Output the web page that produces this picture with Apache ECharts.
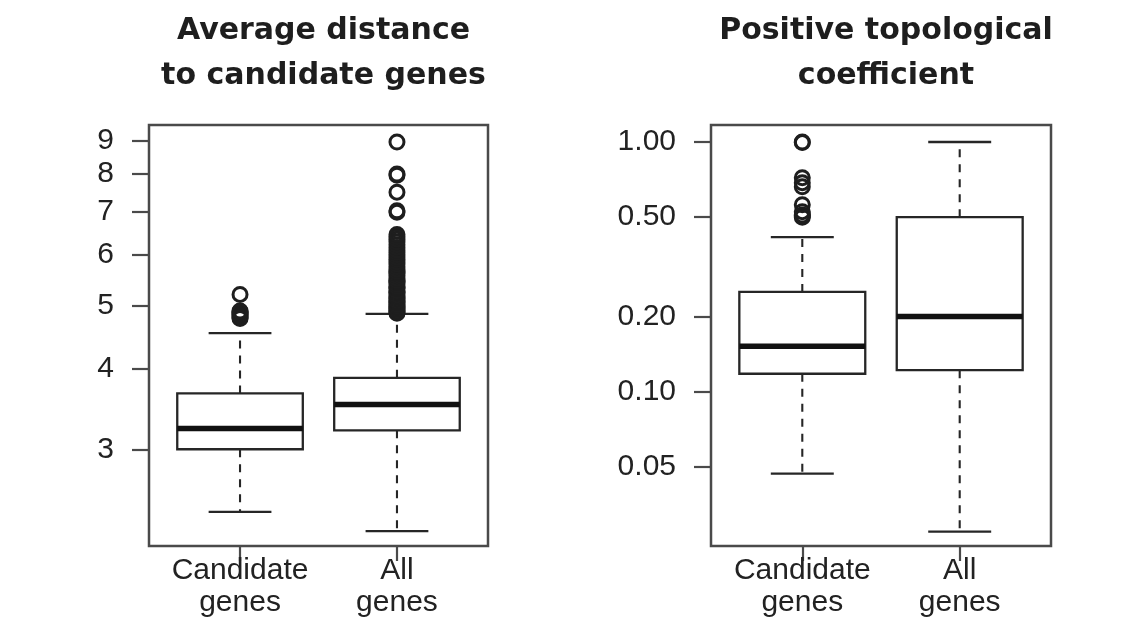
<!DOCTYPE html>
<html>
<head>
<meta charset="utf-8">
<script src="https://cdn.jsdelivr.net/npm/echarts@6/dist/echarts.min.js"></script>
<style>
html,body{margin:0;padding:0;background:#fff;}
#chart{width:1140px;height:626px;}
</style>
</head>
<body>
<div id="chart"></div>
<script>
// ---------- data ----------
const categories = ['Candidate\ngenes', 'All\ngenes'];
const titles = ['Average distance\nto candidate genes', 'Positive topological\ncoefficient'];
const distTicks = [3, 4, 5, 6, 7, 8, 9];
const coefTicks = [0.05, 0.10, 0.20, 0.50, 1.00];

// [lower whisker, Q1, median, Q3, upper whisker]
const distCandidateBox = [2.40, 3.00, 3.23, 3.66, 4.54];
const distAllBox = [2.24, 3.21, 3.52, 3.87, 4.86];
const distCandidateOutliers = [4.78, 4.80, 4.82, 4.84, 4.86, 4.88, 4.90, 4.91, 5.21];
const distAllOutliers = [4.87, 4.89, 4.91, 4.93, 4.96, 4.98, 5.00, 5.03, 5.06, 5.08, 5.10, 5.13,
  5.15, 5.17, 5.20, 5.24, 5.26, 5.28, 5.32, 5.34, 5.36, 5.40, 5.44, 5.46, 5.48, 5.52, 5.57,
  5.61, 5.64, 5.66, 5.70, 5.75, 5.80, 5.85, 5.90, 5.95, 6.00, 6.05, 6.10, 6.16, 6.22, 6.28,
  6.34, 6.40, 6.45, 6.98, 7.02, 7.50, 7.97, 8.00, 8.97];

const coefCandidateBox = [0.047, 0.118, 0.152, 0.251, 0.416];
const coefAllBox = [0.0275, 0.122, 0.200, 0.500, 1.000];
const coefCandidateOutliers = [0.500, 0.505, 0.510, 0.526, 0.561, 0.662, 0.687, 0.720, 0.995, 1.000];
const coefAllOutliers = [];

// ---------- build ----------
const ink = '#262626';
const frame = '#4a4a4a';
const fontAxis = '"Liberation Sans", Arial, sans-serif';

function boxItems(boxes) {
  return boxes.map((b, i) => [i + 1].concat(b));
}
function outlierItems(lists) {
  const out = [];
  lists.forEach((l, i) => l.forEach(v => out.push([i + 1, v])));
  return out;
}

function renderBox(params, api) {
  const x = api.value(0);
  const lo = api.value(1), q1 = api.value(2), med = api.value(3), q3 = api.value(4), hi = api.value(5);
  const pLo = api.coord([x, lo]), pQ1 = api.coord([x, q1]), pMed = api.coord([x, med]);
  const pQ3 = api.coord([x, q3]), pHi = api.coord([x, hi]);
  const left = api.coord([x - 0.4, med])[0], right = api.coord([x + 0.4, med])[0];
  const capL = api.coord([x - 0.2, med])[0], capR = api.coord([x + 0.2, med])[0];
  const cx = pMed[0];
  const solid = {stroke: ink, lineWidth: 2.3, fill: null};
  const dashed = {stroke: ink, lineWidth: 2.1, lineDash: [8, 7], fill: null};
  return {
    type: 'group',
    children: [
      {type: 'line', shape: {x1: cx, y1: pQ3[1], x2: cx, y2: pHi[1]}, style: dashed},
      {type: 'line', shape: {x1: cx, y1: pQ1[1], x2: cx, y2: pLo[1]}, style: dashed},
      {type: 'line', shape: {x1: capL, y1: pHi[1], x2: capR, y2: pHi[1]}, style: solid},
      {type: 'line', shape: {x1: capL, y1: pLo[1], x2: capR, y2: pLo[1]}, style: solid},
      {type: 'rect', shape: {x: left, y: pQ3[1], width: right - left, height: pQ1[1] - pQ3[1]},
        style: {stroke: ink, lineWidth: 2.3, fill: '#fff'}},
      {type: 'line', shape: {x1: left, y1: pMed[1], x2: right, y2: pMed[1]},
        style: {stroke: '#111', lineWidth: 5.5}}
    ]
  };
}

const grids = [
  {left: 149, top: 125, width: 339, height: 421},
  {left: 711, top: 125, width: 340, height: 421}
];
const yRanges = [[2.125, 9.53], [0.0241, 1.17]];
const yTicks = [distTicks, coefTicks];
const yFormat = [v => String(Math.round(v)), v => Number(v).toFixed(2)];

const outlierStyle = {color: 'rgba(255,255,255,0)', borderColor: '#1e1e1e', borderWidth: 3, opacity: 1};

const option = {
  animation: false,
  backgroundColor: '#fff',
  title: titles.map((t, i) => ({
    text: t,
    left: grids[i].left + grids[i].width / 2,
    top: 4,
    textAlign: 'center',
    textStyle: {fontFamily: '"DejaVu Sans", Verdana, sans-serif', fontWeight: 'bold',
      fontSize: 30, lineHeight: 45, color: '#1e1e1e'}
  })),
  grid: grids.map(g => Object.assign({show: true, borderColor: frame, borderWidth: 2.5,
    backgroundColor: 'transparent', containLabel: false}, g)),
  xAxis: grids.map((g, i) => ({
    type: 'value', gridIndex: i, min: 0.42, max: 2.58,
    splitLine: {show: false},
    axisLine: {show: false},
    axisTick: {show: true, inside: false, length: 15, customValues: [1, 2],
      lineStyle: {color: frame, width: 2.2}},
    axisLabel: {show: true, customValues: [1, 2], margin: 9,
      formatter: v => categories[Math.round(v) - 1],
      fontFamily: fontAxis, fontSize: 30, lineHeight: 32, color: '#222'}
  })),
  yAxis: grids.map((g, i) => ({
    type: 'log', gridIndex: i, min: yRanges[i][0], max: yRanges[i][1],
    splitLine: {show: false},
    axisLine: {show: false},
    axisTick: {show: true, inside: false, length: 17, customValues: yTicks[i],
      lineStyle: {color: frame, width: 2.2}},
    axisLabel: {show: true, customValues: yTicks[i], margin: 35,
      formatter: yFormat[i],
      fontFamily: fontAxis, fontSize: 30, color: '#222'}
  })),
  series: [
    {type: 'custom', xAxisIndex: 0, yAxisIndex: 0, renderItem: renderBox,
      data: boxItems([distCandidateBox, distAllBox]), silent: true},
    {type: 'scatter', xAxisIndex: 0, yAxisIndex: 0, symbol: 'circle', symbolSize: 14, silent: true,
      itemStyle: outlierStyle,
      data: outlierItems([distCandidateOutliers, distAllOutliers])},
    {type: 'custom', xAxisIndex: 1, yAxisIndex: 1, renderItem: renderBox,
      data: boxItems([coefCandidateBox, coefAllBox]), silent: true},
    {type: 'scatter', xAxisIndex: 1, yAxisIndex: 1, symbol: 'circle', symbolSize: 14, silent: true,
      itemStyle: outlierStyle,
      data: outlierItems([coefCandidateOutliers, coefAllOutliers])}
  ]
};

const chart = echarts.init(document.getElementById('chart'), null, {renderer: 'canvas'});
chart.setOption(option);
</script>
</body>
</html>
